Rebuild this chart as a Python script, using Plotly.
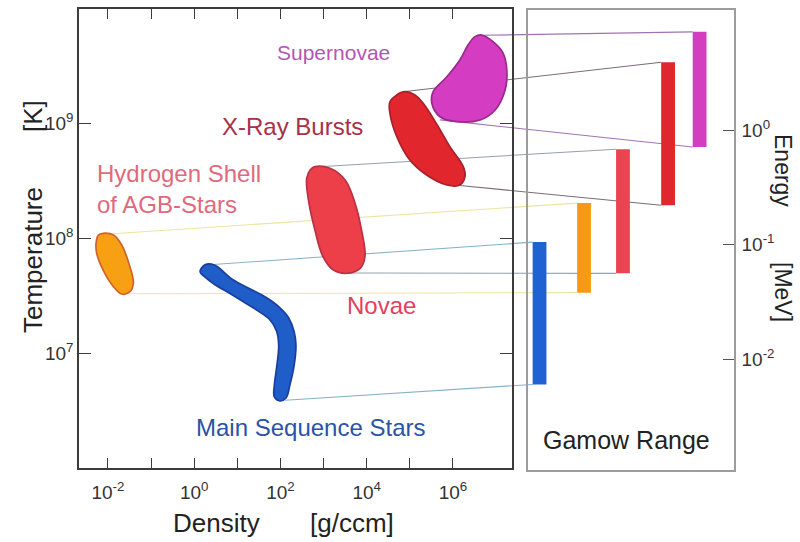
import numpy as np
import plotly.graph_objects as go

# ---------------------------------------------------------------------------
# Burning sites in the density-temperature plane.
# Outlines are given as log10(density [g/ccm]) and log10(T [K]).
# ---------------------------------------------------------------------------
SITES = ["Main Sequence Stars", "Hydrogen Shell of AGB-Stars", "Novae",
         "X-Ray Bursts", "Supernovae"]

MS_LOG_RHO = [0.17, 0.27, 0.48, 0.90, 1.29, 1.68, 1.99, 2.19, 2.32, 2.36, 2.32,
              2.22, 2.13, 1.99, 1.86, 1.86, 1.92, 1.96, 1.91, 1.76, 1.46, 1.16,
              0.86, 0.46, 0.24, 0.14]
MS_LOG_T = [7.743, 7.775, 7.767, 7.640, 7.562, 7.483, 7.396, 7.309, 7.185, 7.072,
            6.898, 6.723, 6.610, 6.584, 6.619, 6.723, 6.898, 7.072, 7.195, 7.290,
            7.374, 7.444, 7.514, 7.603, 7.668, 7.707]

AGB_LOG_RHO = [-2.11, -1.87, -1.68, -1.49, -1.41, -1.49, -1.68, -1.87, -2.11,
               -2.26, -2.27, -2.22]
AGB_LOG_T = [8.045, 8.030, 7.943, 7.754, 7.610, 7.536, 7.516, 7.580, 7.725,
             7.871, 7.972, 8.030]

NOVA_LOG_RHO = [2.80, 3.15, 3.50, 3.73, 3.88, 3.96, 3.85, 3.54, 3.23, 2.99,
                2.80, 2.65, 2.61, 2.69]
NOVA_LOG_T = [8.626, 8.612, 8.510, 8.307, 8.074, 7.841, 7.740, 7.697, 7.725,
              7.841, 8.074, 8.336, 8.525, 8.597]

XRB_LOG_RHO = [4.85, 5.12, 5.31, 5.66, 5.93, 6.24, 6.28, 6.16, 5.86, 5.39,
               5.00, 4.70, 4.54, 4.54, 4.70]
XRB_LOG_T = [9.279, 9.251, 9.178, 8.974, 8.800, 8.626, 8.539, 8.466, 8.466,
             8.553, 8.684, 8.887, 9.091, 9.192, 9.251]

SN_LOG_RHO = [6.67, 6.93, 7.16, 7.25, 7.21, 6.98, 6.63, 6.09, 5.70, 5.51,
              5.54, 5.86, 6.16, 6.35, 6.51]
SN_LOG_T = [9.773, 9.715, 9.617, 9.468, 9.294, 9.120, 9.033, 9.018, 9.061,
            9.181, 9.279, 9.410, 9.556, 9.686, 9.759]

# Points of each region joined to the top / bottom of its Gamow window
LINK_TOP_RHO = [2.3, 0.0085, 630.0, 6.9e4, 4.7e6]
LINK_TOP_T = [5.9e7, 1.09e8, 4.2e8, 1.9e9, 5.9e9]
LINK_BOT_RHO = [130.0, 0.025, 3470.0, 1.45e6, 5.0e5]
LINK_BOT_T = [3.9e6, 3.3e7, 5.0e7, 2.9e8, 1.08e9]

# Gamow energy windows [MeV]
GAMOW_E_LOW = [0.006, 0.038, 0.056, 0.22, 0.71]
GAMOW_E_HIGH = [0.105, 0.23, 0.68, 3.9, 7.2]
GAMOW_SLOT = [0.56, 2.72, 4.61, 6.80, 8.33]

RHO_TICKS = [-2, -1, 0, 1, 2, 3, 4, 5, 6]
T_TICKS = [7, 8, 9]
E_TICKS = [-2, -1, 0]

# ---------------------------------------------------------------------------
# Styling
# ---------------------------------------------------------------------------
FILL = ["#1f5dc9", "#f7a014", "#ec3f49", "#e2262d", "#d43cc1"]
EDGE = ["#1a3e9c", "#d0632c", "#b83244", "#a8202b", "#9a2a8c"]
BAR = ["#2062d2", "#f59a12", "#ea4452", "#e0272d", "#d33dbf"]
LINK = ["#86b3c6", "#ede59e", "#94a0ad", "#7c6b7a", "#a073b0"]
LABEL = ["#2a52a8", "#e06a7c", "#e2405e", "#a8304a", "#b455b4"]

FONT = "Liberation Sans, Arial, sans-serif"

XR = [-2.67, 7.37]          # log10 density range
YR = [6.0, 10.0]            # log10 temperature range
ER = [-2.969, 1.048]        # log10 energy range
GR = [0.0, 10.0]            # Gamow panel slot range
X_DOM = [79 / 800, 512 / 800]
Y_DOM = [1 - 468 / 542, 1 - 9 / 542]
X2_DOM = [528 / 800, 734 / 800]
Y2_DOM = [1 - 470 / 542, 1 - 10 / 542]
BAR_W = 0.67


def main_to_paper(rho, t):
    lx, ly = np.log10(rho), np.log10(t)
    px = X_DOM[0] + (lx - XR[0]) / (XR[1] - XR[0]) * (X_DOM[1] - X_DOM[0])
    py = Y_DOM[0] + (ly - YR[0]) / (YR[1] - YR[0]) * (Y_DOM[1] - Y_DOM[0])
    return px, py


def gamow_to_paper(slot, e):
    le = np.log10(e)
    px = X2_DOM[0] + (slot - GR[0]) / (GR[1] - GR[0]) * (X2_DOM[1] - X2_DOM[0])
    py = Y2_DOM[0] + (le - ER[0]) / (ER[1] - ER[0]) * (Y2_DOM[1] - Y2_DOM[0])
    return px, py


def sup(k):
    return "10<sup>%d</sup>" % k


fig = go.Figure()

outlines = [(MS_LOG_RHO, MS_LOG_T), (AGB_LOG_RHO, AGB_LOG_T),
            (NOVA_LOG_RHO, NOVA_LOG_T), (XRB_LOG_RHO, XRB_LOG_T),
            (SN_LOG_RHO, SN_LOG_T)]

for i, (lr, lt) in enumerate(outlines):
    xs = 10 ** np.array(lr + [lr[0]])
    ys = 10 ** np.array(lt + [lt[0]])
    fig.add_trace(go.Scatter(
        x=xs, y=ys, mode="lines", fill="toself",
        fillcolor=FILL[i],
        line=dict(color=EDGE[i], width=1.7, shape="spline", smoothing=1.1),
        hoverinfo="skip", showlegend=False, name=SITES[i],
        xaxis="x", yaxis="y"))

# Gamow windows as vertical bars
for i in range(len(SITES)):
    c = GAMOW_SLOT[i]
    lo, hi = GAMOW_E_LOW[i], GAMOW_E_HIGH[i]
    fig.add_trace(go.Scatter(
        x=[c - BAR_W / 2, c + BAR_W / 2, c + BAR_W / 2, c - BAR_W / 2, c - BAR_W / 2],
        y=[lo, lo, hi, hi, lo], mode="lines", fill="toself",
        fillcolor=BAR[i], line=dict(width=0, color=BAR[i]),
        hoverinfo="skip", showlegend=False, name=SITES[i],
        xaxis="x2", yaxis="y2"))

# Thin connectors from each region to its energy window
shapes = []
for i in range(len(SITES)):
    left = GAMOW_SLOT[i] - BAR_W / 2
    for rho, t, e in ((LINK_TOP_RHO[i], LINK_TOP_T[i], GAMOW_E_HIGH[i]),
                      (LINK_BOT_RHO[i], LINK_BOT_T[i], GAMOW_E_LOW[i])):
        x0, y0 = main_to_paper(rho, t)
        x1, y1 = gamow_to_paper(left, e)
        shapes.append(dict(type="line", xref="paper", yref="paper",
                           x0=x0, y0=y0, x1=x1, y1=y1, layer="below",
                           line=dict(color=LINK[i], width=1.1)))

tick_font = dict(family=FONT, size=19, color="#333333")

fig.update_layout(
    width=800, height=542, autosize=False,
    margin=dict(l=0, r=0, t=0, b=0),
    paper_bgcolor="white", plot_bgcolor="rgba(0,0,0,0)",
    font=dict(family=FONT),
    shapes=shapes,
    xaxis=dict(type="log", range=XR, domain=X_DOM, anchor="y",
               showline=True, linecolor="#3c3c3c", linewidth=1.5,
               mirror="ticks", ticks="inside", ticklen=10, tickwidth=1.4,
               tickcolor="#3c3c3c", ticklabelstandoff=6,
               tickvals=[10.0 ** k for k in RHO_TICKS],
               ticktext=[sup(k) if k % 2 == 0 else "" for k in RHO_TICKS],
               tickfont=tick_font, showgrid=False, zeroline=False),
    yaxis=dict(type="log", range=YR, domain=Y_DOM, anchor="x",
               showline=True, linecolor="#3c3c3c", linewidth=1.5,
               mirror="ticks", ticks="inside", ticklen=12, tickwidth=1.4,
               tickcolor="#3c3c3c",
               tickvals=[10.0 ** k for k in T_TICKS],
               ticktext=[sup(k) for k in T_TICKS],
               tickfont=tick_font, showgrid=False, zeroline=False),
    xaxis2=dict(range=GR, domain=X2_DOM, anchor="y2",
                showline=True, linecolor="#9c9c9c", linewidth=1.5, mirror=True,
                ticks="", showticklabels=False, showgrid=False, zeroline=False),
    yaxis2=dict(type="log", range=ER, domain=Y2_DOM, anchor="x2", side="right",
                showline=True, linecolor="#9c9c9c", linewidth=1.5, mirror=True,
                ticks="inside", ticklen=11, tickwidth=1.4, tickcolor="#555555",
                ticklabelstandoff=2,
                tickvals=[10.0 ** k for k in E_TICKS],
                ticktext=[sup(k) for k in E_TICKS],
                tickfont=tick_font, showgrid=False, zeroline=False),
)

# Region labels (annotation positions on log axes are given in log10 units)
region_labels = [
    ("Main Sequence Stars", 2.69, 6.349, "center", 24),
    ("Hydrogen Shell<br>of AGB-Stars", -2.30, 8.431, "left", 24),
    ("Novae", 4.355, 7.420, "center", 24),
    ("X-Ray Bursts", 2.27, 8.972, "center", 24),
    ("Supernovae", 3.24, 9.617, "center", 21),
]
for i, (txt, ax_, ay_, anchor, size) in enumerate(region_labels):
    fig.add_annotation(x=ax_, y=ay_, xref="x", yref="y", text=txt,
                       showarrow=False, xanchor=anchor, yanchor="middle",
                       align="left",
                       font=dict(family=FONT, size=size, color=LABEL[i]))

fig.add_annotation(x=4.76, y=-2.707, xref="x2", yref="y2", text="Gamow Range",
                   showarrow=False, xanchor="center", yanchor="middle",
                   font=dict(family=FONT, size=25, color="#222222"))


def title(text, px, py, angle, font):
    fig.add_annotation(x=px / 800, y=1 - py / 542, xref="paper", yref="paper",
                       text=text, textangle=angle, showarrow=False,
                       xanchor="center", yanchor="middle", font=font)


# Axis titles
title_font = dict(family=FONT, size=26, color="#222222")
title("Temperature", 33, 260, -90, title_font)
title("[K]", 33, 116, -90, title_font)
title("Density", 216, 523, 0, title_font)
title("[g/ccm]", 352, 523, 0, title_font)
e_font = dict(family=FONT, size=23, color="#222222")
title("Energy", 783, 170, 90, e_font)
title("[MeV]", 783, 292, 90, e_font)

fig.write_html("out.html")
